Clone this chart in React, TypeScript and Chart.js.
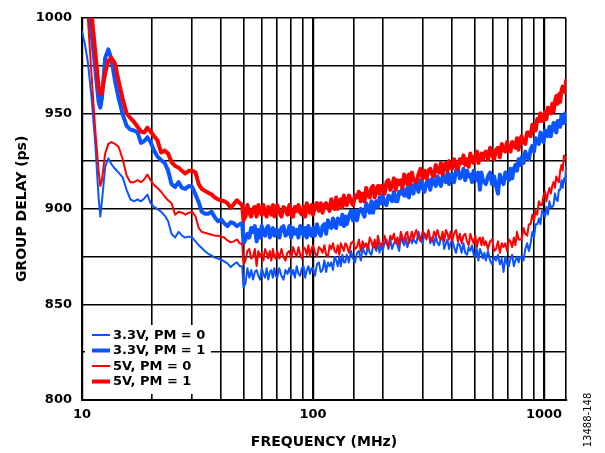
import React, { useEffect, useRef } from "react";
import { Chart, registerables } from "chart.js";

Chart.register(...registerables);

// Frequency axis (MHz)
const freqMHz: number[] = [
  // smooth low-frequency part
  10, 10.3, 10.6, 11, 11.4, 11.8, 12.0, 12.2, 12.6, 13,
  13.4, 13.9, 14.4, 15, 15.6, 16.2, 16.8, 17.4, 18, 18.6,
  19.2, 19.8, 20.5, 21.2, 22, 22.8, 23.6, 24.4, 25.3, 26.2,
  27.1, 28, 29, 30, 31, 32, 33, 34, 35.2, 36.4,
  37.6, 38.8, 40, 41.3, 42.6, 44, 45.4, 46.8, 48.2, 49.4,
  // noisy part
  50, 51, 52, 53, 54, 55, 56, 57, 58, 59, 60, 61, 62, 63, 64, 65, 66, 67, 68, 69,
  70, 71.5, 73, 74.5, 76, 77.5, 79, 80.5, 82, 83.5, 85, 86.5, 88, 89.5, 91, 92.5, 94, 95.5, 97, 98.5,
  100, 102, 104, 106, 108, 110, 112, 114, 116, 118, 120, 122, 124, 126, 128, 130, 132, 134, 136, 138,
  140, 143, 146, 149, 152, 155, 158, 161, 164, 167, 170, 173, 176, 179, 182, 185, 188, 191, 194, 197,
  200, 204, 208, 212, 216, 220, 224, 228, 232, 236, 240, 244, 248, 252, 256, 260, 264, 268, 272, 276,
  280, 286, 292, 298, 304, 310, 316, 322, 328, 334, 340, 346, 352, 358, 364, 370, 376, 382, 388, 394,
  400, 408, 416, 424, 432, 440, 448, 456, 464, 472, 480, 488, 496, 504, 512, 520, 528, 536, 544, 552,
  560, 572, 584, 596, 608, 620, 632, 644, 656, 668, 680, 692, 704, 716, 728, 740, 752, 764, 776, 788,
  800, 815, 830, 845, 860, 875, 890, 905, 920, 935, 950, 965, 980, 995, 1010, 1025, 1040, 1055, 1070, 1085,
  1100, 1115, 1130, 1145, 1160, 1175, 1190, 1205, 1220, 1235, 1245,
];

// Group delay (ps), 3.3V, PM = 0
const gd33PM0: number[] = [
  993, 986, 977, 958, 935, 906, 896, 904, 922, 926.5,
  923.5, 921, 919, 916.5, 910, 905, 904, 905, 904, 905.5,
  907.5, 903, 901, 900, 898.5, 896.5, 893.5, 887, 885, 888,
  886, 885, 885.5, 885, 883, 881, 879.5, 878, 876.5, 875.5,
  874.5, 874, 873.5, 872.5, 871.5, 869.5, 871, 872, 870, 870,
  859, 861, 869, 864, 868, 863, 867, 868, 865, 863, 869, 866, 864, 869, 863, 867, 868, 864, 869, 865,
  864, 869, 865, 863, 868, 866, 869, 865, 868, 864, 870, 866, 865, 869, 870, 864, 868, 870, 866, 869,
  869, 865, 871, 872, 867, 868, 873, 867, 872, 870, 872, 868, 875, 873, 870, 875, 870, 876, 872, 872,
  876, 872, 878, 874, 872, 877, 878, 873, 880, 877, 876, 881, 877, 876, 881, 880, 878, 883, 877, 882,
  878, 882, 884, 879, 884, 879, 882, 884, 881, 878, 885, 883, 881, 885, 880, 883, 885, 882, 884, 883,
  882, 888, 884, 882, 887, 885, 888, 882, 885, 881, 886, 882, 881, 885, 885, 879, 882, 884, 879, 882,
  884, 880, 877, 882, 881, 877, 882, 877, 876, 880, 878, 881, 876, 875, 879, 873, 879, 877, 874, 877,
  873, 878, 873, 871, 875, 873, 876, 871, 874, 867, 875, 871, 870, 874, 876, 870, 873, 875, 872, 875,
  875, 873, 879, 882, 878, 882, 888, 885, 892, 892, 895, 892, 899, 898, 896, 901, 897, 904, 901, 901,
  902, 908, 905, 904, 910, 910, 915, 911, 916, 914, 922,
];

// Group delay (ps), 3.3V, PM = 1
const gd33PM1: number[] = [
  1042, 1026, 1011, 992, 974, 956, 953, 958, 979, 983.5,
  978.5, 967, 958, 949.5, 943.5, 941.5, 941, 940, 934.5, 935.5,
  937.5, 935, 930.5, 927.5, 925.5, 924, 920, 913, 911.5, 914,
  911, 910.5, 912, 911.5, 907.5, 903.5, 898.5, 897.5, 897.5, 898.5,
  895.5, 893.5, 894.5, 892.5, 891, 893, 892.5, 891, 892, 892.5,
  882, 884, 887, 885, 890, 888, 891, 883, 889, 885, 891, 887, 886, 890, 891, 885, 888, 890, 886, 889,
  889, 885, 890, 891, 886, 887, 891, 885, 890, 887, 889, 885, 891, 889, 886, 890, 885, 891, 887, 886,
  890, 886, 892, 888, 886, 891, 892, 887, 894, 891, 890, 895, 891, 890, 895, 894, 892, 897, 891, 896,
  892, 896, 899, 894, 899, 894, 899, 900, 898, 896, 903, 900, 898, 904, 898, 903, 904, 901, 906, 903,
  907, 903, 902, 907, 906, 904, 909, 904, 904, 909, 908, 911, 907, 907, 911, 906, 913, 911, 908, 913,
  913, 909, 915, 911, 909, 914, 915, 910, 916, 914, 912, 917, 914, 912, 917, 917, 914, 919, 913, 918,
  918, 914, 920, 921, 916, 917, 921, 915, 920, 917, 918, 914, 920, 918, 915, 919, 910, 919, 915, 914,
  913, 917, 919, 913, 917, 912, 908, 918, 915, 913, 919, 917, 915, 921, 916, 921, 923, 920, 926, 923,
  927, 924, 930, 927, 926, 931, 933, 930, 937, 935, 934, 940, 936, 935, 941, 940, 938, 943, 938, 942,
  945, 942, 940, 946, 946, 943, 949, 945, 945, 950, 949,
];

// Group delay (ps), 5V, PM = 0
const gd5PM0: number[] = [
  1046, 1022, 1000, 970, 942, 920, 912, 915, 929, 934,
  935, 934, 932.5, 926, 917.5, 914, 914, 915, 914, 915.5,
  918, 915, 912.5, 911, 909, 906.5, 904.5, 903, 897, 898.5,
  898, 897, 898, 898.5, 896, 890, 888, 887.5, 887, 886.5,
  886, 886, 885.5, 885, 883.5, 882.5, 883, 884, 882, 881.5,
  871, 873, 878, 879, 874, 875, 879, 870, 878, 875, 877, 873, 879, 877, 874, 878, 873, 879, 875, 874,
  878, 874, 879, 875, 873, 877, 878, 874, 880, 877, 875, 880, 876, 874, 880, 879, 876, 881, 875, 879,
  881, 877, 875, 880, 879, 877, 881, 876, 875, 881, 879, 882, 878, 877, 881, 876, 882, 880, 878, 882,
  881, 877, 882, 883, 879, 880, 884, 878, 883, 880, 882, 879, 885, 883, 880, 884, 879, 886, 882, 881,
  881, 886, 882, 880, 886, 884, 887, 882, 885, 881, 888, 885, 883, 887, 888, 882, 885, 888, 884, 887,
  889, 885, 883, 888, 887, 884, 889, 884, 883, 888, 886, 889, 885, 884, 888, 883, 889, 887, 884, 888,
  883, 887, 889, 883, 887, 882, 886, 887, 883, 881, 887, 884, 882, 886, 880, 884, 885, 881, 885, 881,
  883, 879, 883, 884, 878, 879, 883, 877, 882, 880, 882, 878, 884, 883, 880, 885, 881, 888, 884, 884,
  884, 890, 887, 886, 892, 892, 897, 894, 899, 897, 904, 902, 902, 907, 909, 904, 908, 911, 908, 912,
  914, 911, 917, 915, 914, 920, 923, 920, 928, 927, 927,
];

// Group delay (ps), 5V, PM = 1
const gd5PM1: number[] = [
  1055, 1038, 1023, 1002, 983, 964, 960, 961, 971, 977.5,
  979, 976, 967, 957.5, 950, 947.5, 945.5, 943, 940.5, 940,
  942.5, 940.5, 938, 936, 929.5, 930.5, 929, 924.5, 922.5, 921.5,
  920, 918.5, 920, 920, 919, 913, 910.5, 909.5, 908.5, 907.5,
  906, 905, 904.5, 904, 903, 900.5, 902.5, 904.5, 903, 902,
  894, 896, 902, 898, 896, 900, 901, 896, 902, 899, 897, 902, 898, 896, 901, 900, 897, 902, 896, 900,
  902, 898, 896, 901, 900, 897, 902, 897, 896, 901, 899, 902, 898, 897, 901, 896, 903, 900, 898, 902,
  897, 901, 903, 899, 903, 898, 902, 903, 901, 899, 905, 902, 900, 906, 900, 904, 905, 901, 907, 903,
  902, 907, 904, 902, 907, 906, 909, 904, 908, 904, 911, 907, 906, 911, 912, 906, 910, 912, 908, 912,
  912, 908, 914, 915, 910, 912, 916, 910, 915, 913, 915, 911, 918, 916, 913, 918, 913, 919, 915, 915,
  914, 918, 921, 916, 920, 916, 920, 921, 918, 917, 923, 920, 919, 924, 918, 923, 924, 920, 925, 922,
  921, 926, 922, 921, 926, 924, 928, 923, 926, 922, 929, 925, 924, 928, 930, 924, 927, 929, 926, 929,
  930, 926, 932, 928, 926, 931, 932, 927, 934, 931, 930, 935, 931, 930, 935, 934, 932, 937, 931, 936,
  938, 935, 934, 940, 940, 938, 944, 941, 941, 947, 946, 950, 946, 946, 951, 947, 953, 952, 950, 955,
  951, 956, 959, 955, 960, 956, 962, 964, 962, 961, 967,
];

const seriesLabels = ["3.3V, PM = 0", "3.3V, PM = 1", "5V, PM = 0", "5V, PM = 1"];
const xLabelValues = [10, 100, 1000];
const yLabelStep = 50;
const xTitle = "FREQUENCY (MHz)";
const yTitle = "GROUP DELAY (ps)";
const figureId = "13488-148";

const BLUE = "#0a55ff";
const RED = "#ff0000";
const FONT = "'DejaVu Sans', 'Liberation Sans', Arial, sans-serif";

export default function App() {
  const canvasRef = useRef<HTMLCanvasElement | null>(null);

  useEffect(() => {
    document.body.style.margin = "0";
    const canvas = canvasRef.current;
    if (!canvas) return;

    const styles = [
      { data: gd33PM0, color: BLUE, width: 2 },
      { data: gd33PM1, color: BLUE, width: 4 },
      { data: gd5PM0, color: RED, width: 2 },
      { data: gd5PM1, color: RED, width: 4 },
    ];

    const toPoints = (arr: number[]) => {
      const n = Math.min(arr.length, freqMHz.length);
      const pts: { x: number; y: number }[] = [];
      for (let i = 0; i < n; i++) pts.push({ x: freqMHz[i], y: arr[i] });
      return pts;
    };

    const datasets = styles.map((s, i) => ({
      label: seriesLabels[i],
      data: toPoints(s.data),
      borderColor: s.color,
      backgroundColor: s.color,
      borderWidth: s.width,
      pointRadius: 0,
      tension: 0,
      borderJoinStyle: "round" as const,
      borderCapStyle: "round" as const,
      fill: false,
      order: 4 - i,
    }));

    const isPow10 = (v: number) => {
      const l = Math.log10(v);
      return Math.abs(l - Math.round(l)) < 1e-6;
    };

    const overlayPlugin = {
      id: "overlay",
      afterDatasetsDraw(chart: any) {
        const { ctx, chartArea } = chart;
        ctx.save();
        const bx = chartArea.left + 3;
        const by = chartArea.bottom - 75;
        ctx.fillStyle = "#ffffff";
        ctx.fillRect(bx, by, 126, 69);
        ctx.font = `bold 13px ${FONT}`;
        ctx.textBaseline = "middle";
        ctx.textAlign = "left";
        styles.forEach((s, i) => {
          const y = by + 10 + i * 15.5;
          ctx.strokeStyle = s.color;
          ctx.lineWidth = s.width;
          ctx.lineCap = "butt";
          ctx.beginPath();
          ctx.moveTo(bx + 7, y);
          ctx.lineTo(bx + 25, y);
          ctx.stroke();
          ctx.fillStyle = "#000";
          ctx.fillText(seriesLabels[i], bx + 28, y + 0.5);
        });
        ctx.restore();
      },
      afterDraw(chart: any) {
        const { ctx } = chart;
        ctx.save();
        ctx.translate(588, 420);
        ctx.rotate(-Math.PI / 2);
        ctx.font = `10px ${FONT}`;
        ctx.fillStyle = "#000";
        ctx.textAlign = "center";
        ctx.textBaseline = "middle";
        ctx.fillText(figureId, 0, 0);
        ctx.restore();
      },
    };

    const chart = new Chart(canvas, {
      type: "line",
      data: { datasets },
      options: {
        animation: false,
        responsive: false,
        maintainAspectRatio: false,
        parsing: false as any,
        layout: { padding: { left: 0, top: 15, right: 39, bottom: 0 } },
        plugins: {
          legend: { display: false },
          tooltip: { enabled: false },
        },
        scales: {
          x: {
            type: "logarithmic",
            min: 10,
            max: 1245,
            afterFit: (s: any) => {
              s.height = 53;
            },
            grid: {
              color: "#000",
              lineWidth: (c: any) => (c.tick && isPow10(c.tick.value) ? 2.2 : 1.6),
              drawTicks: false,
            },
            border: { color: "#000", width: 2 },
            ticks: {
              autoSkip: false,
              maxRotation: 0,
              padding: 7,
              color: "#000",
              font: { family: FONT, size: 13, weight: "bold" },
              callback: (v: any) => {
                const n = Number(v);
                return xLabelValues.some((t) => Math.abs(t - n) < 1e-6) ? String(Math.round(n)) : "";
              },
            },
            title: {
              display: true,
              text: xTitle,
              color: "#000",
              font: { family: FONT, size: 14, weight: "bold" },
              padding: { top: 0, bottom: 2.6 },
            },
          },
          y: {
            type: "linear",
            min: 800,
            max: 1000,
            afterFit: (s: any) => {
              s.width = 82;
            },
            grid: { color: "#000", lineWidth: 1.6, drawTicks: false },
            border: { color: "#000", width: 2 },
            ticks: {
              stepSize: 25,
              padding: 10,
              color: "#000",
              font: { family: FONT, size: 13, weight: "bold" },
              callback: (v: any) => (Number(v) % yLabelStep === 0 ? String(v) : ""),
            },
            title: {
              display: true,
              text: yTitle,
              color: "#000",
              font: { family: FONT, size: 14, weight: "bold" },
              padding: { top: 13.6, bottom: 0 },
            },
          },
        },
      } as any,
      plugins: [overlayPlugin],
    });

    return () => {
      chart.destroy();
    };
  }, []);

  return (
    <div style={{ position: "fixed", left: 0, top: 0, width: 605, height: 453, background: "#fff" }}>
      <canvas ref={canvasRef} width={605} height={453} style={{ display: "block", width: 605, height: 453 }} />
    </div>
  );
}
